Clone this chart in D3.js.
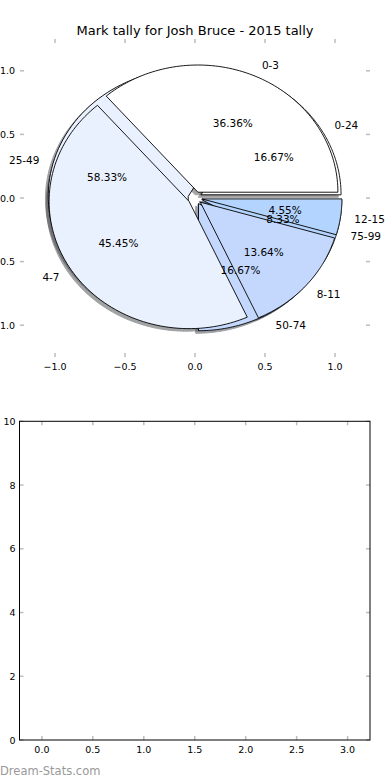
<!DOCTYPE html>
<html><head><meta charset="utf-8">
<script src="https://cdn.jsdelivr.net/npm/d3@7"></script>
<style>body{margin:0;background:#fff} text{font-family:"DejaVu Sans",sans-serif}</style>
</head><body><svg id="c" width="390" height="780"></svg>
<script>
const titleText = "Mark tally for Josh Bruce - 2015 tally";
const marksLabels = ["0-3","4-7","8-11","12-15"];
const marksValues = [8,10,3,1];
const tallyLabels = ["0-24","25-49","50-74","75-99"];
const tallyValues = [2,7,2,1];
const wedgeColors = ["#ffffff","#eaf1fe","#c4d8fe","#b3d4fe"];
const pieTicks = [-1,-0.5,0,0.5,1];
const barXTicks = [0,0.5,1,1.5,2,2.5,3];
const barYTicks = [0,2,4,6,8,10];
const watermark = "Dream-Stats.com";

const explode = 0.05, radius = 1, labelDist = 1.1, pctDist = 0.6, shadowOff = 0.02;

const svg = d3.select("#c");
const pieBox = {l:20, r:370, t:39, b:357};
const barBox = {l:19.5, r:370, t:421.3, b:740};
const px = d3.scaleLinear([-1.25,1.25],[pieBox.l,pieBox.r]);
const py = d3.scaleLinear([-1.25,1.25],[pieBox.b,pieBox.t]);
const bx = d3.scaleLinear([-0.22,3.22],[barBox.l,barBox.r]);
const by = d3.scaleLinear([0,10],[barBox.b,barBox.t]);

const tickCol = "#bdbdbd", tickLen = 4;

// title
svg.append("text").attr("x",195).attr("y",30).attr("text-anchor","middle")
  .attr("dominant-baseline","central").attr("font-size","13px").text(titleText);

// pie ticks (frame off, ticks only)
const fmt1 = d3.format(".1f");
const gT = svg.append("g");
pieTicks.forEach(v=>{
  const x = px(v), y = py(v);
  gT.append("line").attr("x1",x).attr("x2",x).attr("y1",pieBox.t).attr("y2",pieBox.t+tickLen).attr("stroke",tickCol).attr("stroke-width",1.5);
  gT.append("line").attr("x1",x).attr("x2",x).attr("y1",pieBox.b).attr("y2",pieBox.b-tickLen).attr("stroke",tickCol).attr("stroke-width",1.5);
  gT.append("line").attr("y1",y).attr("y2",y).attr("x1",pieBox.l).attr("x2",pieBox.l+tickLen).attr("stroke",tickCol).attr("stroke-width",1.5);
  gT.append("line").attr("y1",y).attr("y2",y).attr("x1",pieBox.r).attr("x2",pieBox.r-tickLen).attr("stroke",tickCol).attr("stroke-width",1.5);
  gT.append("text").attr("x",x).attr("y",pieBox.b+9).attr("text-anchor","middle").attr("dominant-baseline","central").attr("font-size","9.5px").text(fmt1(v));
  gT.append("text").attr("x",pieBox.l-5).attr("y",y).attr("text-anchor","end").attr("dominant-baseline","central").attr("font-size","9.5px").text(fmt1(v));
});

// pies
const pieGen = d3.pie().sort(null).startAngle(0).endAngle(2*Math.PI);
function build(values, labels){
  const total = d3.sum(values);
  return pieGen(values).map((d,i)=>{
    const mid = (d.startAngle+d.endAngle)/2;
    return {a0:d.startAngle, a1:d.endAngle, mid,
      cx: explode*Math.cos(mid), cy: explode*Math.sin(mid),
      color: wedgeColors[i], label: labels[i], pct: (100*values[i]/total).toFixed(2)+"%"};
  });
}
const tallyPie = build(tallyValues, tallyLabels);
const marksPie = build(marksValues, marksLabels);

function wedgePath(w, ox, oy){
  const pts = [[w.cx+ox, w.cy+oy]];
  const n = 90;
  for(let k=0;k<=n;k++){
    const a = w.a0 + (w.a1-w.a0)*k/n;
    pts.push([w.cx+ox+radius*Math.cos(a), w.cy+oy+radius*Math.sin(a)]);
  }
  return d3.line().x(p=>px(p[0])).y(p=>py(p[1]))(pts)+"Z";
}
function shadowColor(c){
  const r = d3.rgb(c);
  return d3.rgb(r.r*0.3, r.g*0.3, r.b*0.3).toString();
}
const gS = svg.append("g");
[tallyPie, marksPie].forEach(p=>p.forEach(w=>{
  gS.append("path").attr("d",wedgePath(w,-shadowOff,-shadowOff))
    .attr("fill",shadowColor(w.color)).attr("stroke",shadowColor(w.color))
    .attr("stroke-width",1).attr("opacity",0.5);
}));
const gW = svg.append("g");
[tallyPie, marksPie].forEach(p=>p.forEach(w=>{
  gW.append("path").attr("d",wedgePath(w,0,0)).attr("fill",w.color)
    .attr("stroke","#000").attr("stroke-width",0.9).attr("stroke-linejoin","miter");
}));
const gL = svg.append("g");
[tallyPie, marksPie].forEach(p=>p.forEach(w=>{
  const lx = w.cx + labelDist*radius*Math.cos(w.mid);
  const ly = w.cy + labelDist*radius*Math.sin(w.mid);
  gL.append("text").attr("x",px(lx)).attr("y",py(ly))
    .attr("text-anchor", lx>0?"start":"end").attr("dominant-baseline","central")
    .attr("font-size","10.5px").text(w.label);
  const tx = w.cx + pctDist*radius*Math.cos(w.mid);
  const ty = w.cy + pctDist*radius*Math.sin(w.mid);
  gL.append("text").attr("x",px(tx)).attr("y",py(ty))
    .attr("text-anchor","middle").attr("dominant-baseline","central")
    .attr("font-size","10.5px").text(w.pct);
}));

// bottom empty axes
const gB = svg.append("g");
barXTicks.forEach(v=>{
  const x = bx(v);
  gB.append("line").attr("x1",x).attr("x2",x).attr("y1",barBox.t).attr("y2",barBox.t+tickLen).attr("stroke",tickCol).attr("stroke-width",1.5);
  gB.append("line").attr("x1",x).attr("x2",x).attr("y1",barBox.b).attr("y2",barBox.b-tickLen).attr("stroke",tickCol).attr("stroke-width",1.5);
  gB.append("text").attr("x",x).attr("y",barBox.b+9).attr("text-anchor","middle").attr("dominant-baseline","central").attr("font-size","9.5px").text(fmt1(v));
});
barYTicks.forEach(v=>{
  const y = by(v);
  gB.append("line").attr("y1",y).attr("y2",y).attr("x1",barBox.l).attr("x2",barBox.l+tickLen).attr("stroke",tickCol).attr("stroke-width",1.5);
  gB.append("line").attr("y1",y).attr("y2",y).attr("x1",barBox.r).attr("x2",barBox.r-tickLen).attr("stroke",tickCol).attr("stroke-width",1.5);
  gB.append("text").attr("x",barBox.l-4).attr("y",y).attr("text-anchor","end").attr("dominant-baseline","central").attr("font-size","9.5px").text(String(v));
});
gB.append("rect").attr("x",barBox.l).attr("y",barBox.t).attr("width",barBox.r-barBox.l).attr("height",barBox.b-barBox.t)
  .attr("fill","none").attr("stroke","#000").attr("stroke-width",1);

svg.append("text").attr("x",0).attr("y",771).attr("dominant-baseline","central")
  .attr("font-size","11.5px").attr("fill","#999").text(watermark);
</script></body></html>
